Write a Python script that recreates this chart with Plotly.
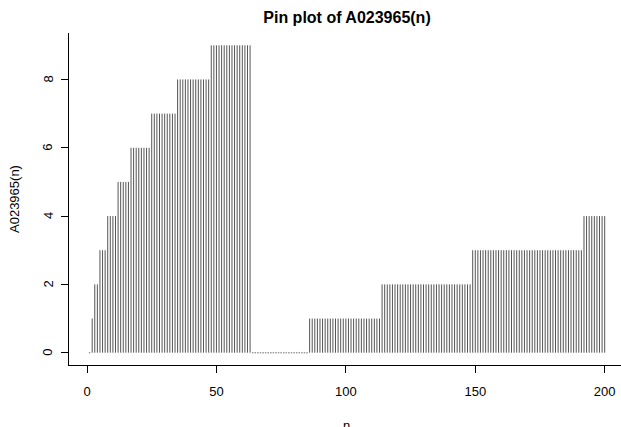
import plotly.graph_objects as go

# Data: A023965(n) for n = 1..200
n_values = list(range(1, 201))
a_values = [
    0, 1, 2, 2, 3, 3, 3, 4, 4, 4,
    4, 5, 5, 5, 5, 5, 6, 6, 6, 6,
    6, 6, 6, 6, 7, 7, 7, 7, 7, 7,
    7, 7, 7, 7, 8, 8, 8, 8, 8, 8,
    8, 8, 8, 8, 8, 8, 8, 9, 9, 9,
    9, 9, 9, 9, 9, 9, 9, 9, 9, 9,
    9, 9, 9, 0, 0, 0, 0, 0, 0, 0,
    0, 0, 0, 0, 0, 0, 0, 0, 0, 0,
    0, 0, 0, 0, 0, 1, 1, 1, 1, 1,
    1, 1, 1, 1, 1, 1, 1, 1, 1, 1,
    1, 1, 1, 1, 1, 1, 1, 1, 1, 1,
    1, 1, 1, 2, 2, 2, 2, 2, 2, 2,
    2, 2, 2, 2, 2, 2, 2, 2, 2, 2,
    2, 2, 2, 2, 2, 2, 2, 2, 2, 2,
    2, 2, 2, 2, 2, 2, 2, 2, 3, 3,
    3, 3, 3, 3, 3, 3, 3, 3, 3, 3,
    3, 3, 3, 3, 3, 3, 3, 3, 3, 3,
    3, 3, 3, 3, 3, 3, 3, 3, 3, 3,
    3, 3, 3, 3, 3, 3, 3, 3, 3, 3,
    3, 4, 4, 4, 4, 4, 4, 4, 4, 4,
]
x_ticks = [0, 50, 100, 150, 200]
y_ticks = [0, 2, 4, 6, 8]

# Build pins (vertical segments from 0 to value)
px, py = [], []
for n, v in zip(n_values, a_values):
    if v != 0:
        px += [n, n, None]
        py += [0, v, None]
zx = [n for n, v in zip(n_values, a_values) if v == 0]
zy = [0 for v in a_values if v == 0]

FONT = "Liberation Sans, Arial, Helvetica, sans-serif"

fig = go.Figure()
fig.add_trace(go.Scatter(x=px, y=py, mode="lines",
                         line=dict(color="#555555", width=1),
                         hoverinfo="skip", showlegend=False))
fig.add_trace(go.Scatter(x=zx, y=zy, mode="markers",
                         marker=dict(color="#9a9a9a", size=1.5, symbol="square",
                                     line=dict(width=0)),
                         hoverinfo="skip", showlegend=False))

W, H = 621, 427
L, R, T, B = 69, 0, 33, 62
PW = W - L - R

annotations = [
    dict(text="n", xref="paper", yref="paper",
         x=(346 - L) / PW, y=-(416 - (H - B)) / (H - T - B),
         xanchor="center", yanchor="top", showarrow=False,
         font=dict(family=FONT, size=13, color="black")),
    dict(text="A023965(n)", xref="paper", yref="paper",
         x=(14 - L) / PW, y=0.5, textangle=-90,
         xanchor="center", yanchor="middle", showarrow=False,
         font=dict(family=FONT, size=13, color="black")),
]
# y tick labels (rotated, as in R's default)
for t in y_ticks:
    annotations.append(dict(text=str(t), xref="paper", yref="y",
                            x=(48 - L) / PW, y=t, textangle=-90,
                            xanchor="center", yanchor="middle", showarrow=False,
                            font=dict(family=FONT, size=13, color="black")))

fig.update_layout(
    width=W, height=H,
    margin=dict(l=L, r=R, t=T, b=B, pad=0),
    paper_bgcolor="white", plot_bgcolor="white",
    font=dict(family=FONT, size=13, color="black"),
    title=dict(text="<b>Pin plot of A023965(n)</b>",
               font=dict(family=FONT, size=16, color="black"),
               x=347 / W, xref="container", xanchor="center",
               y=1 - 17 / H, yref="container", yanchor="middle"),
    xaxis=dict(range=[-6.96, 206.3], tickmode="array", tickvals=x_ticks,
               ticktext=[str(t) for t in x_ticks],
               showgrid=False, zeroline=False, showline=True,
               linecolor="black", linewidth=1,
               ticks="outside", ticklen=7, tickwidth=1, tickcolor="black",
               ticklabelstandoff=7,
               tickfont=dict(family=FONT, size=13, color="black")),
    yaxis=dict(range=[-0.36, 9.36], tickmode="array", tickvals=y_ticks,
               showticklabels=False,
               showgrid=False, zeroline=False, showline=True,
               linecolor="black", linewidth=1,
               ticks="outside", ticklen=7, tickwidth=1, tickcolor="black"),
    annotations=annotations,
)

fig.write_html("out.html", config={"displayModeBar": False},
               post_script="document.body.style.margin='0';document.body.style.padding='0';")
